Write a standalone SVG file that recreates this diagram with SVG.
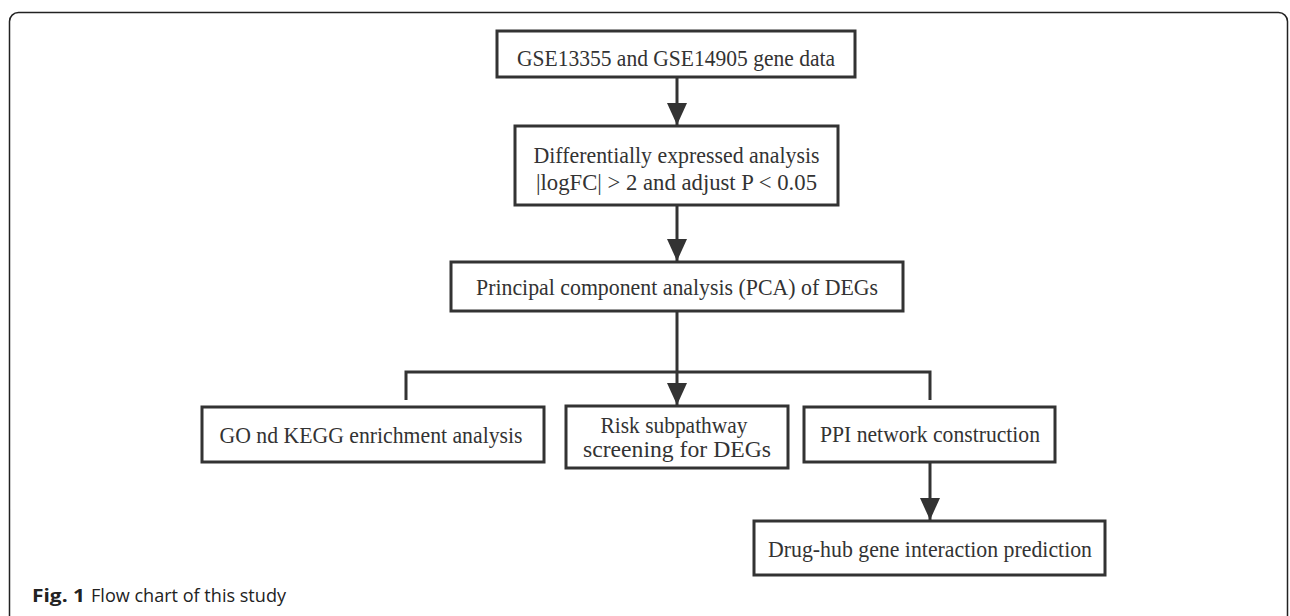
<svg xmlns="http://www.w3.org/2000/svg" width="1290" height="616" viewBox="0 0 1290 616">
<style>
.box{fill:#fff;stroke:#333;stroke-width:3}
.t{font-family:"Liberation Serif","Times New Roman",serif;font-size:23px;fill:#333;text-anchor:middle}
.c{fill:none;stroke:#333;stroke-width:3}
.cap{font-family:"Open Sans","Noto Sans",sans-serif;font-size:18px;fill:#222}
</style>
<defs>
<marker id="ah" markerUnits="userSpaceOnUse" markerWidth="22" markerHeight="20" refX="22" refY="10" orient="auto">
<path d="M0,0 L22,10 L0,20 z" fill="#333"/>
</marker>
</defs>
<rect width="1290" height="616" fill="#fff"/>
<rect x="9.5" y="12.5" width="1278" height="700" rx="9" ry="9" fill="none" stroke="#222" stroke-width="1.5"/>

<g id="connectors">
<line class="c" x1="677" y1="77" x2="677" y2="125" marker-end="url(#ah)"/>
<line class="c" x1="677" y1="205" x2="677" y2="261" marker-end="url(#ah)"/>
<line class="c" x1="677" y1="311" x2="677" y2="405" marker-end="url(#ah)"/>
<polyline class="c" points="406,400 406,372 930,372 930,400"/>
<line class="c" x1="930" y1="462" x2="930" y2="520" marker-end="url(#ah)"/>
</g>

<g id="n1">
<rect class="box" x="497" y="31" width="358" height="46"/>
<text class="t" x="676" y="66" textLength="318" lengthAdjust="spacingAndGlyphs">GSE13355 and GSE14905 gene data</text>
</g>
<g id="n2">
<rect class="box" x="515" y="126" width="323" height="79"/>
<text class="t" x="676.5" y="163" textLength="286" lengthAdjust="spacingAndGlyphs">Differentially expressed analysis</text>
<text class="t" x="676.5" y="190" textLength="281" lengthAdjust="spacingAndGlyphs">|logFC| &gt; 2 and adjust P &lt; 0.05</text>
</g>
<g id="n3">
<rect class="box" x="451" y="262" width="452" height="49"/>
<text class="t" x="677" y="295" textLength="402" lengthAdjust="spacingAndGlyphs">Principal component analysis (PCA) of DEGs</text>
</g>
<g id="n4">
<rect class="box" x="202" y="407" width="342" height="55"/>
<text class="t" x="371" y="443" textLength="303" lengthAdjust="spacingAndGlyphs">GO nd KEGG enrichment analysis</text>
</g>
<g id="n5">
<rect class="box" x="566" y="406" width="222" height="62"/>
<text class="t" x="674" y="433" textLength="147" lengthAdjust="spacingAndGlyphs">Risk subpathway</text>
<text class="t" x="677" y="457" textLength="188" lengthAdjust="spacingAndGlyphs">screening for DEGs</text>
</g>
<g id="n6">
<rect class="box" x="804" y="407" width="251" height="55"/>
<text class="t" x="930" y="442" textLength="220" lengthAdjust="spacingAndGlyphs">PPI network construction</text>
</g>
<g id="n7">
<rect class="box" x="754" y="521" width="351" height="54"/>
<text class="t" x="930" y="557" textLength="324" lengthAdjust="spacingAndGlyphs">Drug-hub gene interaction prediction</text>
</g>

<text class="cap" x="32" y="602" font-weight="bold" textLength="53" lengthAdjust="spacingAndGlyphs">Fig. 1</text>
<text class="cap" x="91" y="602" textLength="195" lengthAdjust="spacingAndGlyphs">Flow chart of this study</text>
</svg>
